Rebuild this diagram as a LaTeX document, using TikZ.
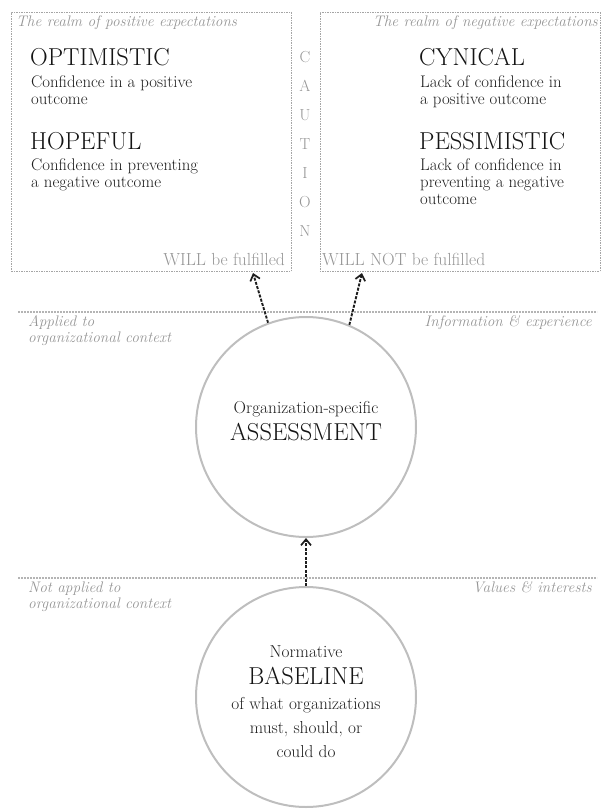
\documentclass[tikz,border=0pt]{standalone}
\usetikzlibrary{arrows.meta}
\definecolor{headc}{RGB}{20,20,20}
\definecolor{bodyc}{RGB}{30,30,30}
\definecolor{notec}{RGB}{150,150,150}
\definecolor{boxc}{RGB}{165,165,165}
\definecolor{sepc}{RGB}{180,180,180}
\definecolor{ringc}{RGB}{190,190,190}
\definecolor{arrc}{RGB}{30,30,30}
\begin{document}
\begin{tikzpicture}[x=1pt,y=-1pt,
  realm/.style={draw=boxc, line width=0.7pt, dash pattern=on 1.5pt off 1pt, minimum width=280pt, minimum height=259pt, anchor=north west, inner sep=0pt},
  sep/.style={draw=sepc, line width=1.2pt, dash pattern=on 2pt off 1pt},
  ring/.style={circle, draw=ringc, line width=2pt, minimum size=220pt, inner sep=0pt},
  head/.style={inner sep=0pt, font=\fontsize{24.5}{26}\selectfont, text=headc},
  body/.style={inner sep=0pt, font=\fontsize{16.8}{17}\selectfont, text=bodyc},
  cbody/.style={inner sep=0pt, font=\fontsize{17.3}{18}\selectfont, text=bodyc},
  note/.style={inner sep=0pt, font=\fontsize{15.3}{16}\selectfont\itshape, text=notec},
  fulfil/.style={inner sep=0pt, font=\fontsize{17.5}{18}\selectfont, text=notec},
  caut/.style={inner sep=0pt, font=\fontsize{16}{17}\selectfont, text=notec},
  flow/.style={draw=arrc, line width=1.9pt, dash pattern=on 3pt off 1.4pt, -{Straight Barb[length=6pt,width=10pt,line width=1.7pt]}},
]
\useasboundingbox (0,0) rectangle (601,811);

% realm boxes
\node[realm] (lbox) at (11,12) {};
\node[realm] (rbox) at (319.5,12) {};

% left box texts
\node[note, anchor=base west] (lrealm) at (16,27) {The realm of positive expectations};
\node[head, anchor=base west] (opt) at (30,65) {OPTIMISTIC};
\node[body, anchor=base west] (opt1) at (31,87) {Confidence in a positive};
\node[body, anchor=base west] (opt2) at (31,104) {outcome};
\node[head, anchor=base west] (hop) at (30,149) {HOPEFUL};
\node[body, anchor=base west] (hop1) at (31,170) {Confidence in preventing};
\node[body, anchor=base west] (hop2) at (31,187) {a negative outcome};
\node[fulfil, anchor=base east] (will) at (285,265) {WILL be fulfilled};

% right box texts
\node[note, anchor=base east] (rrealm) at (598,27) {The realm of negative expectations};
\node[head, anchor=base west] (cyn) at (419,65) {CYNICAL};
\node[body, anchor=base west] (cyn1) at (420,87) {Lack of confidence in};
\node[body, anchor=base west] (cyn2) at (420,104) {a positive outcome};
\node[head, anchor=base west] (pes) at (419,149) {PESSIMISTIC};
\node[body, anchor=base west] (pes1) at (420,170) {Lack of confidence in};
\node[body, anchor=base west] (pes2) at (420,187) {preventing a negative};
\node[body, anchor=base west] (pes3) at (420,204) {outcome};
\node[fulfil, anchor=base west] (wont) at (322,265) {WILL NOT be fulfilled};

% CAUTION
\node[caut, anchor=base] (c1) at (305,62) {C};
\node[caut, anchor=base] (c2) at (305,91) {A};
\node[caut, anchor=base] (c3) at (305,120) {U};
\node[caut, anchor=base] (c4) at (305,149) {T};
\node[caut, anchor=base] (c5) at (305,178) {I};
\node[caut, anchor=base] (c6) at (305,207) {O};
\node[caut, anchor=base] (c7) at (305,236) {N};

% separators
\coordinate (s1a) at (18,312);
\coordinate (s1b) at (597,312);
\coordinate (s2a) at (18,578);
\coordinate (s2b) at (597,578);
\draw[sep] (s1a) -- (s1b);
\draw[sep] (s2a) -- (s2b);

\node[note, anchor=base west] (app1) at (28,326) {Applied to};
\node[note, anchor=base west] (app2) at (28,342) {organizational context};
\node[note, anchor=base east] (info) at (592,326) {Information \& experience};
\node[note, anchor=base west] (napp1) at (28,592) {Not applied to};
\node[note, anchor=base west] (napp2) at (28,608) {organizational context};
\node[note, anchor=base east] (vals) at (592,592) {Values \& interests};

% circles
\node[ring] (assess) at (306,427) {};
\node[cbody, anchor=base] (as1) at (306,413) {Organization-specific};
\node[head, anchor=base] (as2) at (306,440) {ASSESSMENT};

\node[ring] (base) at (306,697) {};
\node[cbody, anchor=base] (b1) at (306,657) {Normative};
\node[head, anchor=base] (b2) at (306,684) {BASELINE};
\node[cbody, anchor=base] (b3) at (306,709) {of what organizations};
\node[cbody, anchor=base] (b4) at (306,733) {must, should, or};
\node[cbody, anchor=base] (b5) at (306,757) {could do};

% arrows
\coordinate (ltip) at (253,273);
\coordinate (rtip) at (362,273);
\draw[flow] (assess.110) -- (ltip);
\draw[flow] (assess.67) -- (rtip);
\draw[flow] (base.north) -- (assess.south);
\end{tikzpicture}
\end{document}
